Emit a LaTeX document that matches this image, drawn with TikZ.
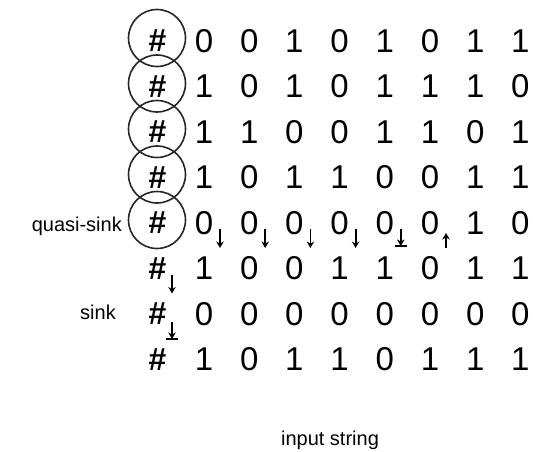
\documentclass[tikz,border=0pt]{standalone}
\usepackage{fontspec}
\setmainfont{Liberation Sans}
\usetikzlibrary{arrows.meta}
\begin{document}
\begin{tikzpicture}[x=1pt,y=-1pt,
  bit/.style={inner sep=0pt, font=\fontsize{33}{33}\selectfont},
  hashsym/.style={inner sep=0pt, font=\fontsize{32}{32}\selectfont\bfseries\itshape},
  ring/.style={draw=black!85, line width=1.6pt, circle, minimum size=57pt, inner sep=0pt},
  lbl/.style={inner sep=0pt, font=\fontsize{20}{20}\selectfont},
  subarrow/.style={line width=1.8pt, -{Stealth[length=6.5pt,width=7.5pt]}},
  barline/.style={line width=2pt}]
\useasboundingbox (0,0) rectangle (533,452);
\foreach \r/\bits in {1/{0,0,1,0,1,0,1,1},2/{1,0,1,0,1,1,1,0},3/{1,1,0,0,1,1,0,1},4/{1,0,1,1,0,0,1,1},5/{0,0,0,0,0,0,1,0},6/{1,0,0,1,1,0,1,1},7/{0,0,0,0,0,0,0,0},8/{1,0,1,1,0,1,1,1}}{
  \node[hashsym] (h\r) at (157,{41+45.5*(\r-1)}) {\#};
  \foreach \b [count=\c] in \bits {
    \node[bit] (d\r\c) at ({204+45.2*(\c-1)},{41+45.5*(\r-1)}) {\b};
  }
}
\foreach \r in {1,...,5}{
  \node[ring] (ring\r) at ([yshift=3pt]h\r.center) {};
}
% quasi-sink row subscripts
\foreach \c in {1,...,4}{
  \draw[subarrow] ([xshift=16pt,yshift=-6pt]d5\c.center) -- ++(0,19);
}
\draw[subarrow] ([xshift=16pt,yshift=-6pt]d55.center) -- ++(0,17) coordinate (a5e);
\draw[barline] ([xshift=-6pt]a5e) -- ([xshift=6pt]a5e);
\draw[subarrow] ([xshift=16pt,yshift=-25pt]d56.center) -- ++(0,-15);
% hash subscripts
\draw[subarrow] ([xshift=15pt,yshift=-6pt]h6.center) -- ++(0,19);
\draw[subarrow] ([xshift=15pt,yshift=-8pt]h7.center) -- ++(0,17) coordinate (a7e);
\draw[barline] ([xshift=-6pt]a7e) -- ([xshift=6pt]a7e);
% labels
\node[lbl, anchor=base east] (qs) at (122,231) {quasi-sink};
\node[lbl, anchor=base] (sk) at (98,319) {sink};
\node[lbl, anchor=base] (inp) at (330,445) {input string};
\end{tikzpicture}
\end{document}
